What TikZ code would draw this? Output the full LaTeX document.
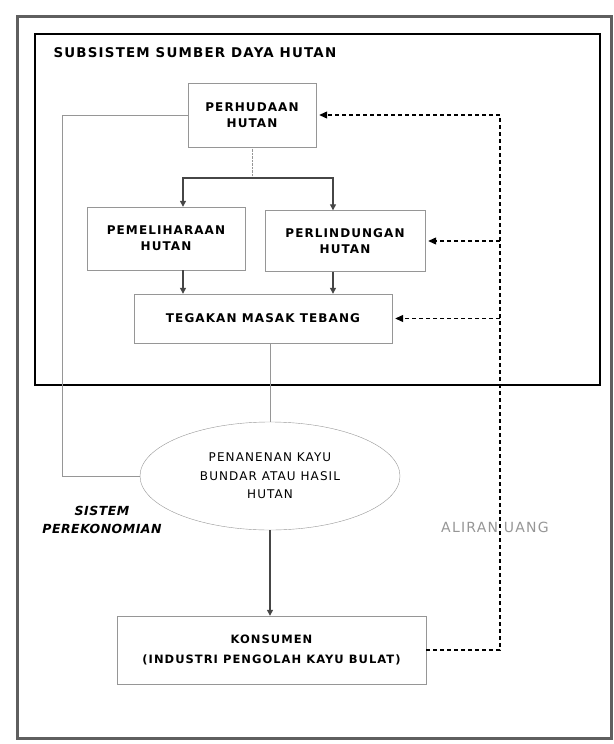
\documentclass[tikz,border=0pt]{standalone}
\usepackage{fontspec}
\setmainfont{DejaVu Sans}[LetterSpace=9]
\newfontfamily\econfont{DejaVu Sans}[LetterSpace=4]
\usepackage{xcolor}
\definecolor{framegray}{RGB}{95, 95, 95}
\definecolor{boxgray}{RGB}{150, 150, 150}
\definecolor{flowgray}{RGB}{70, 70, 70}
\definecolor{moneygray}{RGB}{150, 150, 150}
\usepackage{tikz}
\usetikzlibrary{arrows.meta, positioning, shapes.geometric}

\begin{document}
\begin{tikzpicture}[x=1pt, y=-1pt, >={Triangle[length=6pt, width=6pt]},
    stagebox/.style={draw=boxgray, thin, align=center, inner sep=0pt, font=\fontsize{12}{16}\selectfont\bfseries},
    flow/.style={->, flowgray, line width=1.2pt},
    link/.style={boxgray, thin},
    money/.style={black, line width=1.1pt, dash pattern=on 4pt off 3pt, >={Triangle[length=8pt, width=7pt]}}]
    \useasboundingbox (0,0) rectangle (613,744);
    \draw[line width=3pt, framegray] (17,16) rectangle (611,738);
    \draw[line width=2pt, black] (35,34) rectangle (600,385);
    \node[anchor=west, font=\fontsize{13.4}{16}\selectfont\bfseries] (title) at (50,53) {SUBSISTEM SUMBER DAYA HUTAN};
    \node[stagebox, minimum width=128pt, minimum height=64pt] (perhudaan) at (252,115) {PERHUDAAN\\HUTAN};
    \node[stagebox, minimum width=158pt, minimum height=63pt] (pemeliharaan) at (166,238.5) {PEMELIHARAAN\\HUTAN};
    \node[stagebox, minimum width=160pt, minimum height=61pt] (perlindungan) at (345,241) {PERLINDUNGAN\\HUTAN};
    \node[stagebox, minimum width=258pt, minimum height=49pt] (tegakan) at (263,318.5) {TEGAKAN MASAK TEBANG};
    \node[stagebox, ellipse, minimum width=260pt, minimum height=108pt, font=\fontsize{12}{18.5}\selectfont] (penanenan) at (270,476) {PENANENAN KAYU\\BUNDAR ATAU HASIL\\HUTAN};
    \node[stagebox, minimum width=309pt, minimum height=68pt, font=\fontsize{11.5}{20}\selectfont\bfseries] (konsumen) at (271.5,650) {KONSUMEN\\(INDUSTRI PENGOLAH KAYU BULAT)};
    \node[font=\econfont\fontsize{12.5}{18}\selectfont\bfseries\itshape, align=center] (sistem) at (102,520) {SISTEM\\PEREKONOMIAN};
    \node[text=moneygray, font=\fontsize{14}{16}\selectfont] (aliran) at (495,527) {ALIRAN UANG};
    \coordinate (split) at (252,178);
    \coordinate (rail) at (500,0);
    \draw[link, densely dotted] (perhudaan.south) -- (split);
    \draw[flow] (split) -| ([xshift=17pt]pemeliharaan.north);
    \draw[flow] (split) -| ([xshift=-12pt]perlindungan.north);
    \draw[flow] ([xshift=17pt]pemeliharaan.south) -- ([xshift=17pt]pemeliharaan.south |- tegakan.north);
    \draw[flow] ([xshift=-12pt]perlindungan.south) -- ([xshift=-12pt]perlindungan.south |- tegakan.north);
    \draw[link] (penanenan.north |- tegakan.south) -- (penanenan.north);
    \draw[flow] (penanenan.south) -- (penanenan.south |- konsumen.north);
    \draw[link] (perhudaan.west) -| (62,476) -- (penanenan.west);
    \draw[money, ->, shorten >=3pt] (konsumen.east) -| (rail |- perhudaan.east) -- (perhudaan.east);
    \draw[money, ->, shorten >=3pt] (rail |- perlindungan.east) -- (perlindungan.east);
    \draw[money, ->, shorten >=3pt] (rail |- tegakan.east) -- (tegakan.east);
\end{tikzpicture}
\end{document}
